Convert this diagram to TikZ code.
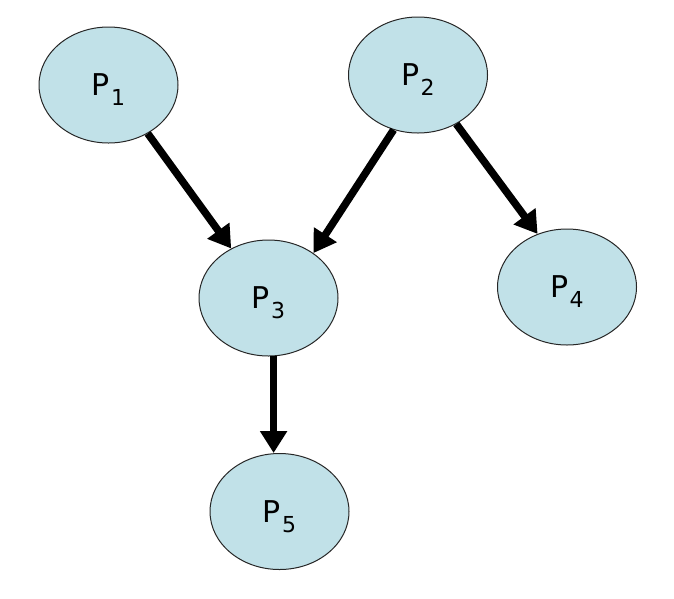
\documentclass[tikz,border=0pt]{standalone}
\usepackage{fontspec}
\setmainfont{DejaVu Sans}
\usetikzlibrary{arrows.meta,shapes.geometric}
\definecolor{procfill}{RGB}{193,225,232}
\newcommand{\proclabel}[1]{\fontsize{30}{30}\selectfont P\kern1pt\smash{\raisebox{-10pt}{\fontsize{22}{22}\selectfont #1}}}
\tikzset{
  proc/.style={ellipse, draw=black!85, line width=1pt, fill=procfill,
    minimum width=139pt, minimum height=116pt, inner sep=0pt},
  dep/.style={line width=7.5pt, -{Triangle[length=22pt,width=26pt]}, shorten >=0pt}
}
\begin{document}
\begin{tikzpicture}[x=1pt,y=-1pt]
  \useasboundingbox (0,0) rectangle (674,598);
  \fill[white] (0,0) rectangle (674,598);
  \node[proc] (p1) at (108.5,85) {\proclabel{1}};
  \node[proc] (p2) at (418,75) {\proclabel{2}};
  \node[proc] (p3) at (268.5,298) {\proclabel{3}};
  \node[proc] (p4) at (567,287) {\proclabel{4}};
  \node[proc] (p5) at (279.5,511.5) {\proclabel{5}};
  \draw[dep] (p1.-51) -- (p3.127);
  \draw[dep] (p2.-114) -- (p3.45);
  \draw[dep] (p2.-52) -- (p4.119);
  \draw[dep] (p3.-85) -- (p3.-85 |- p5.north);
\end{tikzpicture}
\end{document}
